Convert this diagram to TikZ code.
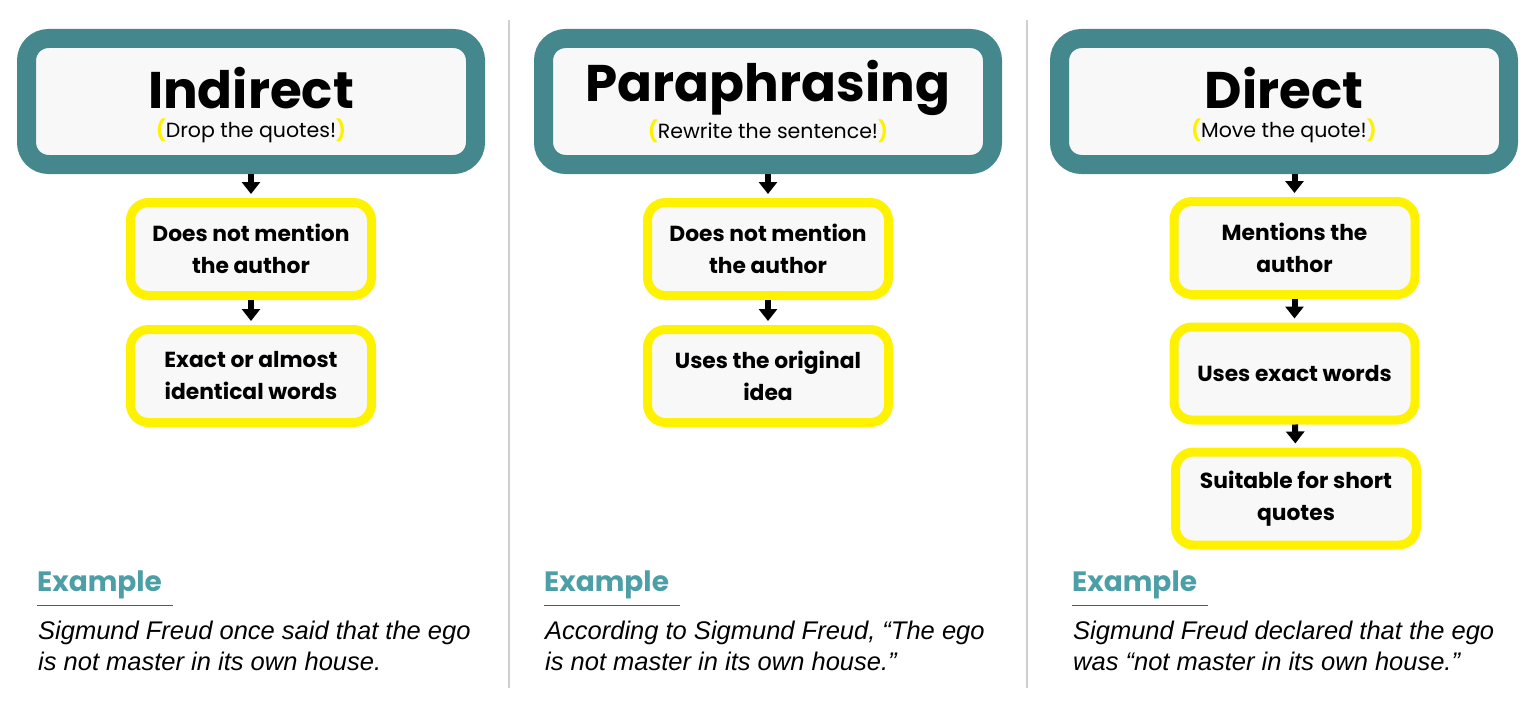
\documentclass[tikz,border=0pt]{standalone}
\usepackage{fontspec}
\setmainfont{Poppins}
\newfontfamily\quotefont{Liberation Sans}
\usetikzlibrary{arrows.meta}

\definecolor{tealframe}{HTML}{44888D}
\definecolor{tealhead}{HTML}{4C9FA6}
\definecolor{boxyellow}{HTML}{FFF200}
\definecolor{paper}{HTML}{F8F8F8}
\definecolor{divider}{HTML}{CFCFCF}

\tikzset{
  headbox/.style={draw=tealframe, line width=19pt, fill=paper, rounded corners=22pt,
    minimum width=449pt, minimum height=126pt, inner sep=0pt},
  headtitle/.style={font=\fontsize{51.5}{51.5}\selectfont\bfseries, inner sep=0pt},
  headsub/.style={font=\fontsize{20.5}{20.5}\selectfont, inner sep=0pt},
  stepbox/.style={draw=boxyellow, line width=9pt, fill=paper, rounded corners=18pt,
    minimum width=241pt, minimum height=93pt, align=center,
    font=\fontsize{21.8}{32}\selectfont\bfseries},
  flow/.style={-{Triangle[width=18pt,length=12pt]}, line width=6pt,
    shorten <=0pt, shorten >=4pt},
  examplehead/.style={anchor=west, inner sep=0pt, text=tealhead,
    font=\fontsize{28}{28}\selectfont\bfseries},
  quote/.style={anchor=north west, inner sep=0pt, align=left,
    font=\quotefont\fontsize{25.5}{31}\selectfont\itshape},
}

\newcommand{\yparen}[1]{{\color{boxyellow}\bfseries(}#1{\color{boxyellow}\bfseries)}}

\begin{document}
\begin{tikzpicture}[x=1pt, y=-1pt]
  \useasboundingbox (0,0) rectangle (1536,709);

  % dividers between the panels
  \foreach \xd in {509, 1027} {
      \draw[divider, line width=2pt] (\xd,20) -- (\xd,688);
    }

  % ---- Indirect ----
  \node[headbox] (headA) at (251,101.5) {};
  \node[headtitle] (titleA) at (251,88) {Indirect};
  \node[headsub] (subA) at (251,131) {\yparen{Drop the quotes!}};
  \node[stepbox] (stepA1) at (251,249) {Does not mention\\the author};
  \node[stepbox] (stepA2) at (251,376) {Exact or almost\\identical words};
  \draw[flow] (headA) -- (stepA1);
  \draw[flow] (stepA1) -- (stepA2);

  % ---- Paraphrasing ----
  \node[headbox] (headB) at (768,101.5) {};
  \node[headtitle] (titleB) at (768,88) {Paraphrasing};
  \node[headsub] (subB) at (768,131) {\yparen{Rewrite the sentence!}};
  \node[stepbox] (stepB1) at (768,249) {Does not mention\\the author};
  \node[stepbox] (stepB2) at (768,376) {Uses the original\\idea};
  \draw[flow] (headB) -- (stepB1);
  \draw[flow] (stepB1) -- (stepB2);

  % ---- Direct ----
  \node[headbox] (headC) at (1284,101.5) {};
  \node[headtitle] (titleC) at (1284,88) {Direct};
  \node[headsub] (subC) at (1284,131) {\yparen{Move the quote!}};
  \node[stepbox] (stepC1) at (1294.5,248) {Mentions the\\author};
  \node[stepbox] (stepC2) at (1294.5,373.5) {Uses exact words};
  \node[stepbox] (stepC3) at (1296,498.5) {Suitable for short\\quotes};
  \draw[flow] (headC.south -| stepC1) -- (stepC1);
  \draw[flow] (stepC1) -- (stepC2);
  \draw[flow] (stepC2) -- (stepC3);

  % examples
  \node[examplehead] (exA) at (37,585) {Example};
  \node[examplehead] (exB) at (544,585) {Example};
  \node[examplehead] (exC) at (1072,585) {Example};
  \foreach \ex/\len in {exA/136, exB/136, exC/136} {
      \draw[black!65, line width=1.5pt] ([yshift=-20.5pt]\ex.west) -- ++(\len,0);
    }
  \node[quote] (qA) at (38,621) {Sigmund Freud once said that the ego\\is not master in its own house.};
  \node[quote] (qB) at (545,621) {According to Sigmund Freud, “The ego\\is not master in its own house.”};
  \node[quote] (qC) at (1073,621) {Sigmund Freud declared that the ego\\was “not master in its own house.”};
\end{tikzpicture}
\end{document}
